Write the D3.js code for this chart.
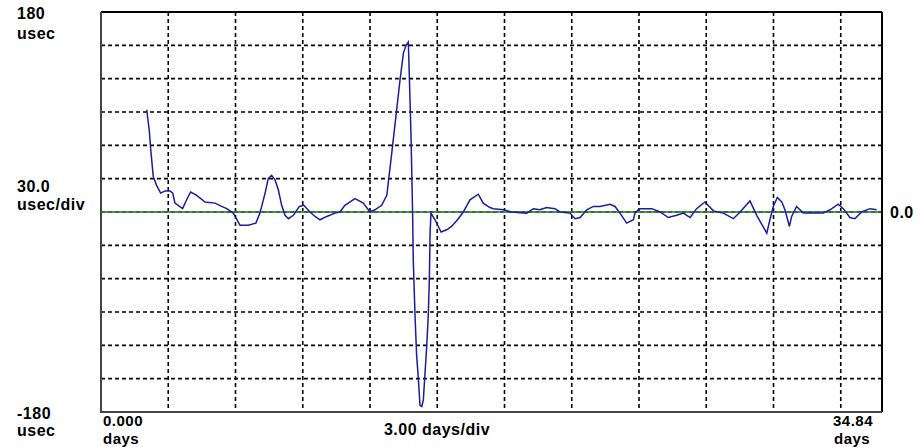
<!DOCTYPE html>
<html><head><meta charset="utf-8">
<script src="https://cdn.jsdelivr.net/npm/d3@7"></script>
<style>
body{margin:0;background:#fff;}
text{font-family:"Liberation Sans",Arial,sans-serif;font-weight:bold;fill:#000;}
</style></head>
<body><svg id="c" width="920" height="447"></svg>
<script>
// Time in days
const days = [2.04,2.15,2.22,2.33,2.48,2.66,2.86,3.08,3.20,3.30,3.64,3.82,4.00,4.27,4.64,5.09,5.38,5.61,5.90,6.20,6.57,6.91,7.09,7.32,7.46,7.61,7.76,7.91,8.06,8.21,8.36,8.58,8.85,9.05,9.32,9.55,9.77,10.07,10.44,10.66,10.88,11.33,11.70,12.00,12.22,12.52,12.75,12.97,13.19,13.34,13.49,13.61,13.71,13.75,13.83,13.90,13.93,14.01,14.08,14.15,14.23,14.31,14.38,14.42,14.53,14.60,14.65,14.68,14.72,14.90,15.17,15.42,15.64,15.94,16.16,16.46,16.83,17.05,17.35,17.50,17.95,18.32,18.99,19.29,19.58,19.88,20.25,20.48,20.92,21.15,21.37,21.67,21.96,22.26,22.71,22.93,23.15,23.45,23.75,23.82,24.01,24.57,24.94,25.31,25.68,25.98,26.28,26.57,26.94,27.32,27.76,28.21,28.51,28.95,29.25,29.70,29.84,29.99,30.17,30.37,30.51,30.71,30.81,31.03,31.33,31.78,32.22,32.52,32.89,33.11,33.41,33.63,33.93,34.30,34.60];
// Phase offset in usec
const usec = [92,74,56,32,24,17,19,19,17,8,3,11,18,15,9,8,5,3,-1,-12,-12,-10,-1,17,30,33,29,20,6,-3,-6,-3,5,6,0,-4,-7,-4,-1,0,6,12,8,0,2,6,15,53,92,119,143,150,153,126,68,0,-43,-94,-129,-148,-174,-175,-169,-156,-121,-93,-58,-19,-1,-7,-18,-16,-13,-6,0,11,16,8,4,3,2,0,-1,3,2,4,3,0,-1,-6,-5,2,5,5,7,5,-1,-10,-7,-1,3,3,0,-5,-3,-1,-5,3,9,1,-1,-6,0,10,-3,-19,-7,5,13,9,2,-13,-4,5,-1,-1,-1,2,7,3,-5,-6,0,3,2];
const xGridDays = [3,6,9,12,15,18,21,24,27,30,33];
const yGridUsec = [-150,-120,-90,-60,-30,0,30,60,90,120,150];
const yLabels = [{v:"180",u:"usec"},{v:"30.0",u:"usec/div"},{v:"-180",u:"usec"}];
const xLabels = {start:"0.000",end:"34.84",unit:"days",mid:"3.00 days/div",zero:"0.0"};

const svg = d3.select("#c");
const L=101,R=882,T=12,B=412;
const x = d3.scaleLinear().domain([0,34.84]).range([L,R]);
const y = d3.scaleLinear().domain([-180,180]).range([B,T]);

// grid
svg.append("g").selectAll("line").data(xGridDays).join("line")
  .attr("x1",d=>x(d)).attr("x2",d=>x(d)).attr("y1",T).attr("y2",B)
  .attr("stroke","#000").attr("stroke-width",1.6).attr("stroke-dasharray","4,3");
svg.append("g").selectAll("line").data(yGridUsec.filter(d=>d!==0)).join("line")
  .attr("x1",L).attr("x2",R).attr("y1",d=>y(d)).attr("y2",d=>y(d))
  .attr("stroke","#000").attr("stroke-width",1.6).attr("stroke-dasharray","4,3");
// zero line (green, dashed over)
svg.append("line").attr("x1",L).attr("x2",R).attr("y1",y(0)).attr("y2",y(0))
  .attr("stroke","#3fa03f").attr("stroke-width",1.8);
svg.append("line").attr("x1",L).attr("x2",R).attr("y1",y(0)).attr("y2",y(0))
  .attr("stroke","#444").attr("stroke-width",1.8).attr("stroke-dasharray","4,3").attr("stroke-opacity",0.6);

// data line
const line = d3.line().x((d,i)=>x(days[i])).y(d=>y(d));
svg.append("path").datum(usec).attr("d",line).attr("fill","none")
  .attr("stroke","#1c1ca0").attr("stroke-width",1.5);

// frame
svg.append("line").attr("x1",L).attr("x2",R).attr("y1",T).attr("y2",T).attr("stroke","#000").attr("stroke-width",2);
svg.append("line").attr("x1",R).attr("x2",R).attr("y1",T).attr("y2",B).attr("stroke","#000").attr("stroke-width",2);
svg.append("line").attr("x1",L).attr("x2",L).attr("y1",T).attr("y2",B+1).attr("stroke","#444").attr("stroke-width",2);
svg.append("line").attr("x1",L).attr("x2",R).attr("y1",B).attr("y2",B).attr("stroke","#444").attr("stroke-width",2);

// labels
const lab = (t,xx,yy,fs,anchor)=>svg.append("text").attr("x",xx).attr("y",yy).attr("font-size",fs)
  .attr("text-anchor",anchor||"start").attr("letter-spacing","0.5px").text(t);
lab(yLabels[0].v,17,19,16); lab(yLabels[0].u,17,39,16);
lab(yLabels[1].v,17,192,16); lab(yLabels[1].u,17,210,16);
lab(yLabels[2].v,17,419,16); lab(yLabels[2].u,17,436,16);
lab(xLabels.start,103,426,15); lab(xLabels.unit,103,444,15);
lab(xLabels.end,833,426,15); lab(xLabels.unit,834,444,15);
lab(xLabels.mid,437,435,16,"middle");
lab(xLabels.zero,890,218,16);
</script></body></html>
